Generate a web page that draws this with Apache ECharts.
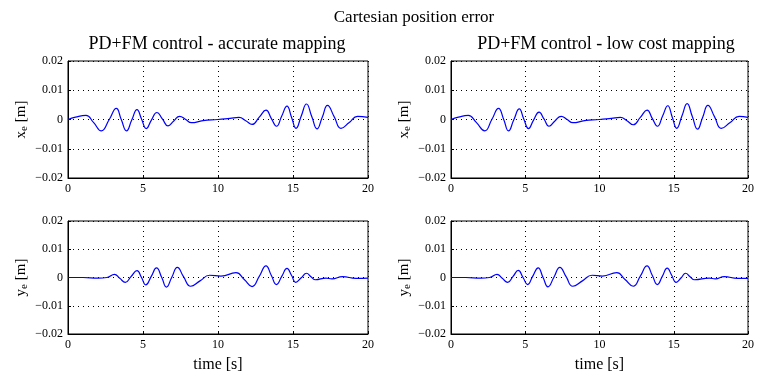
<!DOCTYPE html>
<html>
<head>
<meta charset="utf-8">
<script src="https://cdn.jsdelivr.net/npm/echarts@6/dist/echarts.min.js"></script>
<style>
  html, body { margin: 0; padding: 0; background: #fff; }
  #main { width: 757px; height: 374px; }
</style>
</head>
<body>
<div id="main"></div>
<script>
// x_e, accurate mapping (time [s], error [m])
const xeAccT = [0, 0.5, 1.2, 1.7, 2.22, 2.75, 3.22, 3.55, 3.9, 4.25, 4.6, 4.9, 5.22, 5.55, 5.93, 6.3, 6.67, 7.05, 7.44, 7.85, 8.22, 9.0, 10.0, 10.8, 11.4, 11.85, 12.27, 12.75, 13.2, 13.55, 13.9, 14.25, 14.6, 14.9, 15.2, 15.55, 15.9, 16.25, 16.6, 16.95, 17.3, 17.75, 18.2, 18.75, 19.3, 20];
const xeAccV = [0, 0.0008, 0.0014, -0.001, -0.0039, 0, 0.0038, 0, -0.0039, -0.0002, 0.0034, 0.0002, -0.0031, -0.0003, 0.0024, 0.0001, -0.0022, -0.0005, 0.0011, 0, -0.0011, -0.0004, 0, 0.0004, 0.0007, -0.0004, -0.0017, 0.0008, 0.0032, 0.0004, -0.0023, 0.0012, 0.0046, 0.0008, -0.003, 0.0012, 0.0053, 0.001, -0.0032, 0.0008, 0.0048, 0.0009, -0.003, -0.001, 0.0011, 0.0007];

// x_e, low cost mapping
const xeLowT = [0, 0.5, 1.16, 1.7, 2.27, 2.75, 3.2, 3.55, 3.87, 4.23, 4.6, 4.9, 5.22, 5.55, 5.93, 6.27, 6.6, 7.0, 7.42, 7.82, 8.2, 9.0, 10.0, 10.8, 11.4, 11.85, 12.27, 12.75, 13.2, 13.55, 13.9, 14.25, 14.6, 14.9, 15.2, 15.55, 15.9, 16.25, 16.6, 16.95, 17.3, 17.75, 18.2, 18.8, 19.4, 20];
const xeLowV = [0, 0.0008, 0.0014, -0.001, -0.0039, 0, 0.0038, 0, -0.0039, -0.0001, 0.0036, 0.0002, -0.0031, -0.0003, 0.0025, 0.0001, -0.0023, -0.0005, 0.0011, 0, -0.0011, -0.0004, 0, 0.0004, 0.0007, -0.0004, -0.0018, 0.0007, 0.0032, 0.0004, -0.0023, 0.0012, 0.0047, 0.0008, -0.003, 0.0012, 0.0054, 0.001, -0.0033, 0.0008, 0.0048, 0.0009, -0.003, -0.001, 0.0011, 0.0007];

// y_e, accurate mapping
const yeAccT = [0, 1.0, 2.0, 2.6, 3.1, 3.45, 3.82, 4.2, 4.6, 4.9, 5.18, 5.55, 5.9, 6.25, 6.56, 6.92, 7.29, 7.7, 8.18, 8.8, 9.44, 10.2, 11.2, 11.75, 12.27, 12.75, 13.2, 13.55, 13.9, 14.25, 14.6, 14.9, 15.18, 15.55, 15.9, 16.2, 16.5, 17.2, 17.6, 18.3, 19.2, 20];
const yeAccV = [0, 0, -0.0002, 0, 0.0011, -0.0003, -0.0017, 0.0003, 0.0024, 0, -0.0026, 0.0004, 0.0034, 0, -0.0034, 0.0001, 0.0036, 0.0003, -0.0031, -0.0012, 0.0008, 0.0005, 0.0017, -0.0007, -0.0032, 0.0004, 0.0041, 0.0008, -0.0025, 0.0004, 0.0032, 0.0008, -0.0017, -0.0001, 0.0015, 0.0003, -0.0008, -0.0002, -0.0005, 0.0003, -0.0003, -0.0002];

// y_e, low cost mapping
const yeLowT = [0, 1.0, 2.0, 2.6, 3.1, 3.45, 3.82, 4.18, 4.53, 4.85, 5.16, 5.5, 5.87, 6.2, 6.53, 6.93, 7.33, 7.75, 8.2, 8.85, 9.5, 10.2, 11.16, 11.72, 12.27, 12.75, 13.2, 13.55, 13.9, 14.23, 14.56, 14.86, 15.16, 15.5, 15.8, 16.1, 16.4, 17.4, 17.8, 18.4, 19.3, 20];
const yeLowV = [0, 0, -0.0002, 0, 0.0011, -0.0003, -0.0017, 0.0004, 0.0025, 0, -0.0025, 0.0004, 0.0034, 0, -0.0033, 0.0001, 0.0036, 0.0003, -0.0031, -0.0012, 0.0008, 0.0005, 0.0017, -0.0007, -0.0031, 0.0005, 0.0041, 0.0008, -0.0025, 0.0004, 0.0033, 0.0008, -0.0017, -0.0001, 0.0015, 0.0003, -0.0008, -0.0002, -0.0005, 0.0003, -0.0003, -0.0003];

const xTicks = [0, 5, 10, 15, 20];
const yTicks = [-0.02, -0.01, 0, 0.01, 0.02];

const serif = "'Liberation Serif', 'DejaVu Serif', serif";

function pairs(t, v) {
  return t.map((x, i) => [x, v[i]]);
}

// grids: top-left, top-right, bottom-left, bottom-right
const grids = [
  { left: 68, top: 61, width: 300, height: 117 },
  { left: 451, top: 61, width: 300, height: 117 },
  { left: 68, top: 221, width: 300, height: 117 },
  { left: 451, top: 221, width: 300, height: 117 }
];

const dotted = { show: true, lineStyle: { color: '#000', type: [1, 4], width: 1 } };

let chart = echarts.init(document.getElementById('main'));

chart.setOption({
  animation: false,
  backgroundColor: '#fff',
  title: [
    { text: 'Cartesian position error', left: 409, top: 4, textAlign: 'center',
      textStyle: { fontFamily: serif, fontSize: 17, fontWeight: 'normal', color: '#000' } },
    { text: 'PD+FM control - accurate mapping', left: 212, top: 30, textAlign: 'center',
      textStyle: { fontFamily: serif, fontSize: 18, fontWeight: 'normal', color: '#000' } },
    { text: 'PD+FM control - low cost mapping', left: 601, top: 30, textAlign: 'center',
      textStyle: { fontFamily: serif, fontSize: 18, fontWeight: 'normal', color: '#000' } }
  ],
  grid: grids.map(g => Object.assign({ show: true, borderColor: '#000', borderWidth: 1, backgroundColor: 'transparent' }, g)),
  xAxis: grids.map((g, i) => ({
    type: 'value',
    gridIndex: i,
    min: xTicks[0],
    max: xTicks[xTicks.length - 1],
    interval: 5,
    name: i >= 2 ? 'time [s]' : '',
    nameLocation: 'middle',
    nameGap: 23,
    nameTextStyle: { fontFamily: serif, fontSize: 16, color: '#000' },
    axisLine: { show: true, onZero: false, lineStyle: { color: '#000', width: 1 } },
    axisTick: { show: true, inside: true, length: 3, lineStyle: { color: '#000' } },
    axisLabel: { fontFamily: serif, fontSize: 12, color: '#000', margin: 5 },
    splitLine: dotted
  })),
  yAxis: grids.map((g, i) => ({
    type: 'value',
    gridIndex: i,
    min: yTicks[0],
    max: yTicks[yTicks.length - 1],
    interval: 0.01,
    name: i < 2 ? '{v|x}{s|e} {v|[m]}' : '{v|y}{s|e} {v|[m]}',
    nameLocation: 'middle',
    nameRotate: 90,
    nameGap: 38,
    nameTextStyle: {
      fontFamily: serif, fontSize: 15, color: '#000',
      rich: {
        v: { fontFamily: serif, fontSize: 15, color: '#000' },
        s: { fontFamily: serif, fontSize: 11, color: '#000', padding: [6, 0, 0, 0] }
      }
    },
    axisLine: { show: true, lineStyle: { color: '#000', width: 1 } },
    axisTick: { show: true, inside: true, length: 3, lineStyle: { color: '#000' } },
    axisLabel: {
      fontFamily: serif, fontSize: 12, color: '#000', margin: 5,
      formatter: v => (Math.abs(v) < 1e-9 ? '0' : v.toFixed(2).replace('-', '\u2212'))
    },
    splitLine: dotted
  })),
  series: [
    [xeAccT, xeAccV], [xeLowT, xeLowV], [yeAccT, yeAccV], [yeLowT, yeLowV]
  ].map((s, i) => ({
    type: 'line',
    xAxisIndex: i,
    yAxisIndex: i,
    data: pairs(s[0], s[1]),
    smooth: 0.5,
    showSymbol: false,
    lineStyle: { color: '#0000ff', width: 1.2 }
  }))
});
</script>
</body>
</html>
